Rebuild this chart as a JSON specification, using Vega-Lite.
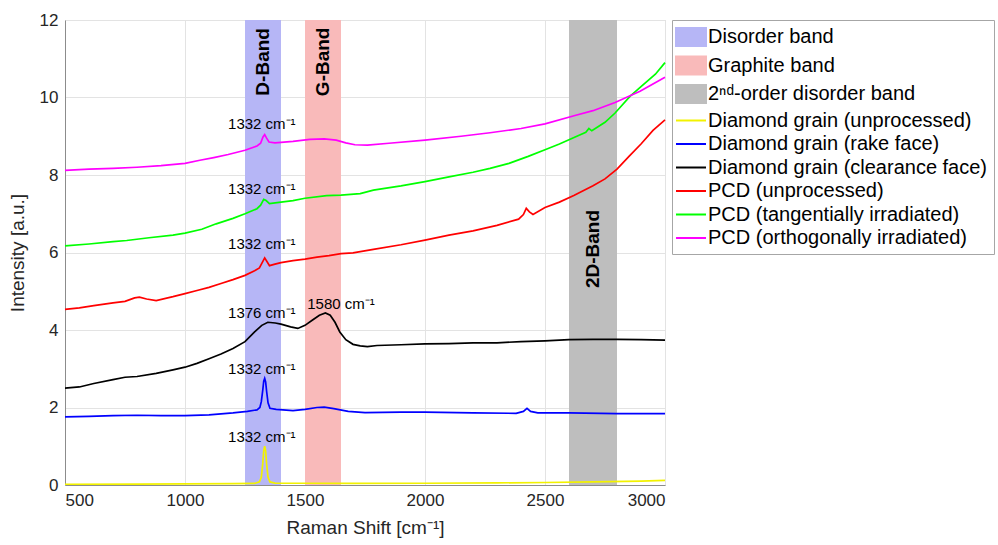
{
  "$schema": "https://vega.github.io/schema/vega-lite/v6.json",
  "autosize": {"type": "none"},
  "padding": {"left": 65, "top": 20, "right": 333, "bottom": 60},
  "width": 600,
  "height": 465,
  "background": "white",
  "config": {
    "font": "Liberation Sans",
    "view": {"stroke": "#d9d9d9"},
    "axis": {
      "labelFont": "Liberation Sans",
      "titleFont": "Liberation Sans",
      "labelFontSize": 17,
      "titleFontSize": 19,
      "titleFontWeight": "normal",
      "labelColor": "#262626",
      "titleColor": "#262626",
      "domainColor": "#8c8c8c",
      "gridColor": "#e3e3e3",
      "tickSize": 0,
      "labelPadding": 7,
      "format": "d"
    },
    "legend": {
      "labelFont": "Liberation Sans",
      "labelFontSize": 20,
      "labelColor": "#000000",
      "labelLimit": 400
    }
  },
  "datasets": {
    "bands": [
      {"series": "Disorder band", "start": 1250, "end": 1400},
      {"series": "Graphite band", "start": 1500, "end": 1650},
      {"series": "2ⁿᵈ-order disorder band", "start": 2600, "end": 2800}
    ],
    "spectra": [
      {"series": "Diamond grain (unprocessed)", "shift": 500, "intensity": 0.02},
      {"series": "Diamond grain (unprocessed)", "shift": 800, "intensity": 0.025},
      {"series": "Diamond grain (unprocessed)", "shift": 1000, "intensity": 0.03},
      {"series": "Diamond grain (unprocessed)", "shift": 1200, "intensity": 0.035},
      {"series": "Diamond grain (unprocessed)", "shift": 1290, "intensity": 0.04},
      {"series": "Diamond grain (unprocessed)", "shift": 1310, "intensity": 0.08},
      {"series": "Diamond grain (unprocessed)", "shift": 1318, "intensity": 0.2},
      {"series": "Diamond grain (unprocessed)", "shift": 1324, "intensity": 0.55},
      {"series": "Diamond grain (unprocessed)", "shift": 1328, "intensity": 0.88},
      {"series": "Diamond grain (unprocessed)", "shift": 1332, "intensity": 1.0},
      {"series": "Diamond grain (unprocessed)", "shift": 1336, "intensity": 0.88},
      {"series": "Diamond grain (unprocessed)", "shift": 1340, "intensity": 0.55},
      {"series": "Diamond grain (unprocessed)", "shift": 1346, "intensity": 0.2},
      {"series": "Diamond grain (unprocessed)", "shift": 1354, "intensity": 0.08},
      {"series": "Diamond grain (unprocessed)", "shift": 1375, "intensity": 0.05},
      {"series": "Diamond grain (unprocessed)", "shift": 1500, "intensity": 0.045},
      {"series": "Diamond grain (unprocessed)", "shift": 1700, "intensity": 0.04},
      {"series": "Diamond grain (unprocessed)", "shift": 2000, "intensity": 0.045},
      {"series": "Diamond grain (unprocessed)", "shift": 2300, "intensity": 0.055},
      {"series": "Diamond grain (unprocessed)", "shift": 2500, "intensity": 0.065},
      {"series": "Diamond grain (unprocessed)", "shift": 2700, "intensity": 0.08},
      {"series": "Diamond grain (unprocessed)", "shift": 2900, "intensity": 0.1},
      {"series": "Diamond grain (unprocessed)", "shift": 3000, "intensity": 0.12},

      {"series": "Diamond grain (rake face)", "shift": 500, "intensity": 1.76},
      {"series": "Diamond grain (rake face)", "shift": 600, "intensity": 1.77},
      {"series": "Diamond grain (rake face)", "shift": 700, "intensity": 1.79},
      {"series": "Diamond grain (rake face)", "shift": 800, "intensity": 1.8},
      {"series": "Diamond grain (rake face)", "shift": 900, "intensity": 1.79},
      {"series": "Diamond grain (rake face)", "shift": 1000, "intensity": 1.79},
      {"series": "Diamond grain (rake face)", "shift": 1100, "intensity": 1.81},
      {"series": "Diamond grain (rake face)", "shift": 1200, "intensity": 1.86},
      {"series": "Diamond grain (rake face)", "shift": 1260, "intensity": 1.9},
      {"series": "Diamond grain (rake face)", "shift": 1300, "intensity": 1.94},
      {"series": "Diamond grain (rake face)", "shift": 1312, "intensity": 2.0},
      {"series": "Diamond grain (rake face)", "shift": 1318, "intensity": 2.15},
      {"series": "Diamond grain (rake face)", "shift": 1324, "intensity": 2.45},
      {"series": "Diamond grain (rake face)", "shift": 1328, "intensity": 2.68},
      {"series": "Diamond grain (rake face)", "shift": 1332, "intensity": 2.75},
      {"series": "Diamond grain (rake face)", "shift": 1336, "intensity": 2.66},
      {"series": "Diamond grain (rake face)", "shift": 1340, "intensity": 2.42},
      {"series": "Diamond grain (rake face)", "shift": 1346, "intensity": 2.12},
      {"series": "Diamond grain (rake face)", "shift": 1354, "intensity": 1.98},
      {"series": "Diamond grain (rake face)", "shift": 1380, "intensity": 1.95},
      {"series": "Diamond grain (rake face)", "shift": 1450, "intensity": 1.92},
      {"series": "Diamond grain (rake face)", "shift": 1500, "intensity": 1.95},
      {"series": "Diamond grain (rake face)", "shift": 1550, "intensity": 2.0},
      {"series": "Diamond grain (rake face)", "shift": 1580, "intensity": 2.01},
      {"series": "Diamond grain (rake face)", "shift": 1620, "intensity": 1.97},
      {"series": "Diamond grain (rake face)", "shift": 1680, "intensity": 1.9},
      {"series": "Diamond grain (rake face)", "shift": 1750, "intensity": 1.87},
      {"series": "Diamond grain (rake face)", "shift": 1900, "intensity": 1.88},
      {"series": "Diamond grain (rake face)", "shift": 2000, "intensity": 1.88},
      {"series": "Diamond grain (rake face)", "shift": 2200, "intensity": 1.86},
      {"series": "Diamond grain (rake face)", "shift": 2380, "intensity": 1.85},
      {"series": "Diamond grain (rake face)", "shift": 2410, "intensity": 1.9},
      {"series": "Diamond grain (rake face)", "shift": 2425, "intensity": 1.98},
      {"series": "Diamond grain (rake face)", "shift": 2440, "intensity": 1.9},
      {"series": "Diamond grain (rake face)", "shift": 2470, "intensity": 1.86},
      {"series": "Diamond grain (rake face)", "shift": 2600, "intensity": 1.86},
      {"series": "Diamond grain (rake face)", "shift": 2800, "intensity": 1.84},
      {"series": "Diamond grain (rake face)", "shift": 3000, "intensity": 1.84},

      {"series": "Diamond grain (clearance face)", "shift": 500, "intensity": 2.5},
      {"series": "Diamond grain (clearance face)", "shift": 560, "intensity": 2.53},
      {"series": "Diamond grain (clearance face)", "shift": 620, "intensity": 2.62},
      {"series": "Diamond grain (clearance face)", "shift": 700, "intensity": 2.72},
      {"series": "Diamond grain (clearance face)", "shift": 750, "intensity": 2.78},
      {"series": "Diamond grain (clearance face)", "shift": 800, "intensity": 2.8},
      {"series": "Diamond grain (clearance face)", "shift": 880, "intensity": 2.88},
      {"series": "Diamond grain (clearance face)", "shift": 950, "intensity": 2.97},
      {"series": "Diamond grain (clearance face)", "shift": 1000, "intensity": 3.04},
      {"series": "Diamond grain (clearance face)", "shift": 1050, "intensity": 3.14},
      {"series": "Diamond grain (clearance face)", "shift": 1100, "intensity": 3.26},
      {"series": "Diamond grain (clearance face)", "shift": 1150, "intensity": 3.38},
      {"series": "Diamond grain (clearance face)", "shift": 1200, "intensity": 3.52},
      {"series": "Diamond grain (clearance face)", "shift": 1250, "intensity": 3.7},
      {"series": "Diamond grain (clearance face)", "shift": 1290, "intensity": 3.95},
      {"series": "Diamond grain (clearance face)", "shift": 1320, "intensity": 4.12},
      {"series": "Diamond grain (clearance face)", "shift": 1345, "intensity": 4.2},
      {"series": "Diamond grain (clearance face)", "shift": 1376, "intensity": 4.18},
      {"series": "Diamond grain (clearance face)", "shift": 1400, "intensity": 4.15},
      {"series": "Diamond grain (clearance face)", "shift": 1440, "intensity": 4.08},
      {"series": "Diamond grain (clearance face)", "shift": 1470, "intensity": 4.04},
      {"series": "Diamond grain (clearance face)", "shift": 1500, "intensity": 4.12},
      {"series": "Diamond grain (clearance face)", "shift": 1530, "intensity": 4.25},
      {"series": "Diamond grain (clearance face)", "shift": 1560, "intensity": 4.38},
      {"series": "Diamond grain (clearance face)", "shift": 1585, "intensity": 4.44},
      {"series": "Diamond grain (clearance face)", "shift": 1605, "intensity": 4.38},
      {"series": "Diamond grain (clearance face)", "shift": 1625, "intensity": 4.2},
      {"series": "Diamond grain (clearance face)", "shift": 1645, "intensity": 3.95},
      {"series": "Diamond grain (clearance face)", "shift": 1670, "intensity": 3.75},
      {"series": "Diamond grain (clearance face)", "shift": 1700, "intensity": 3.63},
      {"series": "Diamond grain (clearance face)", "shift": 1730, "intensity": 3.59},
      {"series": "Diamond grain (clearance face)", "shift": 1760, "intensity": 3.57},
      {"series": "Diamond grain (clearance face)", "shift": 1800, "intensity": 3.6},
      {"series": "Diamond grain (clearance face)", "shift": 1900, "intensity": 3.62},
      {"series": "Diamond grain (clearance face)", "shift": 2000, "intensity": 3.64},
      {"series": "Diamond grain (clearance face)", "shift": 2100, "intensity": 3.65},
      {"series": "Diamond grain (clearance face)", "shift": 2200, "intensity": 3.67},
      {"series": "Diamond grain (clearance face)", "shift": 2300, "intensity": 3.67},
      {"series": "Diamond grain (clearance face)", "shift": 2400, "intensity": 3.7},
      {"series": "Diamond grain (clearance face)", "shift": 2500, "intensity": 3.72},
      {"series": "Diamond grain (clearance face)", "shift": 2600, "intensity": 3.75},
      {"series": "Diamond grain (clearance face)", "shift": 2700, "intensity": 3.76},
      {"series": "Diamond grain (clearance face)", "shift": 2800, "intensity": 3.76},
      {"series": "Diamond grain (clearance face)", "shift": 2900, "intensity": 3.75},
      {"series": "Diamond grain (clearance face)", "shift": 3000, "intensity": 3.74},

      {"series": "PCD (unprocessed)", "shift": 500, "intensity": 4.53},
      {"series": "PCD (unprocessed)", "shift": 560, "intensity": 4.57},
      {"series": "PCD (unprocessed)", "shift": 620, "intensity": 4.63},
      {"series": "PCD (unprocessed)", "shift": 700, "intensity": 4.7},
      {"series": "PCD (unprocessed)", "shift": 750, "intensity": 4.74},
      {"series": "PCD (unprocessed)", "shift": 790, "intensity": 4.83},
      {"series": "PCD (unprocessed)", "shift": 810, "intensity": 4.85},
      {"series": "PCD (unprocessed)", "shift": 840, "intensity": 4.8},
      {"series": "PCD (unprocessed)", "shift": 880, "intensity": 4.76},
      {"series": "PCD (unprocessed)", "shift": 950, "intensity": 4.86},
      {"series": "PCD (unprocessed)", "shift": 1000, "intensity": 4.94},
      {"series": "PCD (unprocessed)", "shift": 1050, "intensity": 5.02},
      {"series": "PCD (unprocessed)", "shift": 1100, "intensity": 5.1},
      {"series": "PCD (unprocessed)", "shift": 1150, "intensity": 5.2},
      {"series": "PCD (unprocessed)", "shift": 1200, "intensity": 5.3},
      {"series": "PCD (unprocessed)", "shift": 1250, "intensity": 5.41},
      {"series": "PCD (unprocessed)", "shift": 1290, "intensity": 5.53},
      {"series": "PCD (unprocessed)", "shift": 1310, "intensity": 5.6},
      {"series": "PCD (unprocessed)", "shift": 1320, "intensity": 5.72},
      {"series": "PCD (unprocessed)", "shift": 1332, "intensity": 5.86},
      {"series": "PCD (unprocessed)", "shift": 1342, "intensity": 5.76},
      {"series": "PCD (unprocessed)", "shift": 1352, "intensity": 5.66},
      {"series": "PCD (unprocessed)", "shift": 1375, "intensity": 5.7},
      {"series": "PCD (unprocessed)", "shift": 1400, "intensity": 5.74},
      {"series": "PCD (unprocessed)", "shift": 1450, "intensity": 5.79},
      {"series": "PCD (unprocessed)", "shift": 1500, "intensity": 5.83},
      {"series": "PCD (unprocessed)", "shift": 1550, "intensity": 5.88},
      {"series": "PCD (unprocessed)", "shift": 1600, "intensity": 5.92},
      {"series": "PCD (unprocessed)", "shift": 1650, "intensity": 5.97},
      {"series": "PCD (unprocessed)", "shift": 1700, "intensity": 5.99},
      {"series": "PCD (unprocessed)", "shift": 1785, "intensity": 6.08},
      {"series": "PCD (unprocessed)", "shift": 1900, "intensity": 6.2},
      {"series": "PCD (unprocessed)", "shift": 2000, "intensity": 6.32},
      {"series": "PCD (unprocessed)", "shift": 2100, "intensity": 6.45},
      {"series": "PCD (unprocessed)", "shift": 2200, "intensity": 6.56},
      {"series": "PCD (unprocessed)", "shift": 2300, "intensity": 6.7},
      {"series": "PCD (unprocessed)", "shift": 2390, "intensity": 6.86},
      {"series": "PCD (unprocessed)", "shift": 2410, "intensity": 6.98},
      {"series": "PCD (unprocessed)", "shift": 2422, "intensity": 7.14},
      {"series": "PCD (unprocessed)", "shift": 2435, "intensity": 7.05},
      {"series": "PCD (unprocessed)", "shift": 2450, "intensity": 6.98},
      {"series": "PCD (unprocessed)", "shift": 2500, "intensity": 7.16},
      {"series": "PCD (unprocessed)", "shift": 2560, "intensity": 7.3},
      {"series": "PCD (unprocessed)", "shift": 2620, "intensity": 7.47},
      {"series": "PCD (unprocessed)", "shift": 2700, "intensity": 7.72},
      {"series": "PCD (unprocessed)", "shift": 2750, "intensity": 7.9},
      {"series": "PCD (unprocessed)", "shift": 2800, "intensity": 8.15},
      {"series": "PCD (unprocessed)", "shift": 2850, "intensity": 8.48},
      {"series": "PCD (unprocessed)", "shift": 2900, "intensity": 8.8},
      {"series": "PCD (unprocessed)", "shift": 2950, "intensity": 9.15},
      {"series": "PCD (unprocessed)", "shift": 3000, "intensity": 9.42},

      {"series": "PCD (tangentially irradiated)", "shift": 500, "intensity": 6.17},
      {"series": "PCD (tangentially irradiated)", "shift": 600, "intensity": 6.22},
      {"series": "PCD (tangentially irradiated)", "shift": 700, "intensity": 6.28},
      {"series": "PCD (tangentially irradiated)", "shift": 757, "intensity": 6.31},
      {"series": "PCD (tangentially irradiated)", "shift": 850, "intensity": 6.38},
      {"series": "PCD (tangentially irradiated)", "shift": 950, "intensity": 6.45},
      {"series": "PCD (tangentially irradiated)", "shift": 1000, "intensity": 6.5},
      {"series": "PCD (tangentially irradiated)", "shift": 1070, "intensity": 6.6},
      {"series": "PCD (tangentially irradiated)", "shift": 1130, "intensity": 6.74},
      {"series": "PCD (tangentially irradiated)", "shift": 1200, "intensity": 6.88},
      {"series": "PCD (tangentially irradiated)", "shift": 1250, "intensity": 7.0},
      {"series": "PCD (tangentially irradiated)", "shift": 1300, "intensity": 7.13},
      {"series": "PCD (tangentially irradiated)", "shift": 1315, "intensity": 7.22},
      {"series": "PCD (tangentially irradiated)", "shift": 1328, "intensity": 7.37},
      {"series": "PCD (tangentially irradiated)", "shift": 1338, "intensity": 7.34},
      {"series": "PCD (tangentially irradiated)", "shift": 1352, "intensity": 7.26},
      {"series": "PCD (tangentially irradiated)", "shift": 1400, "intensity": 7.3},
      {"series": "PCD (tangentially irradiated)", "shift": 1450, "intensity": 7.34},
      {"series": "PCD (tangentially irradiated)", "shift": 1500, "intensity": 7.4},
      {"series": "PCD (tangentially irradiated)", "shift": 1590, "intensity": 7.47},
      {"series": "PCD (tangentially irradiated)", "shift": 1650, "intensity": 7.48},
      {"series": "PCD (tangentially irradiated)", "shift": 1730, "intensity": 7.52},
      {"series": "PCD (tangentially irradiated)", "shift": 1785, "intensity": 7.61},
      {"series": "PCD (tangentially irradiated)", "shift": 1900, "intensity": 7.72},
      {"series": "PCD (tangentially irradiated)", "shift": 2000, "intensity": 7.83},
      {"series": "PCD (tangentially irradiated)", "shift": 2100, "intensity": 7.95},
      {"series": "PCD (tangentially irradiated)", "shift": 2200, "intensity": 8.07},
      {"series": "PCD (tangentially irradiated)", "shift": 2271, "intensity": 8.17},
      {"series": "PCD (tangentially irradiated)", "shift": 2350, "intensity": 8.3},
      {"series": "PCD (tangentially irradiated)", "shift": 2430, "intensity": 8.48},
      {"series": "PCD (tangentially irradiated)", "shift": 2500, "intensity": 8.65},
      {"series": "PCD (tangentially irradiated)", "shift": 2560, "intensity": 8.8},
      {"series": "PCD (tangentially irradiated)", "shift": 2621, "intensity": 8.97},
      {"series": "PCD (tangentially irradiated)", "shift": 2670, "intensity": 9.1},
      {"series": "PCD (tangentially irradiated)", "shift": 2683, "intensity": 9.2},
      {"series": "PCD (tangentially irradiated)", "shift": 2695, "intensity": 9.14},
      {"series": "PCD (tangentially irradiated)", "shift": 2750, "intensity": 9.36},
      {"series": "PCD (tangentially irradiated)", "shift": 2792, "intensity": 9.6},
      {"series": "PCD (tangentially irradiated)", "shift": 2854, "intensity": 10.03},
      {"series": "PCD (tangentially irradiated)", "shift": 2900, "intensity": 10.28},
      {"series": "PCD (tangentially irradiated)", "shift": 2924, "intensity": 10.41},
      {"series": "PCD (tangentially irradiated)", "shift": 2960, "intensity": 10.6},
      {"series": "PCD (tangentially irradiated)", "shift": 3000, "intensity": 10.9},

      {"series": "PCD (orthogonally irradiated)", "shift": 500, "intensity": 8.12},
      {"series": "PCD (orthogonally irradiated)", "shift": 600, "intensity": 8.15},
      {"series": "PCD (orthogonally irradiated)", "shift": 700, "intensity": 8.17},
      {"series": "PCD (orthogonally irradiated)", "shift": 800, "intensity": 8.2},
      {"series": "PCD (orthogonally irradiated)", "shift": 900, "intensity": 8.24},
      {"series": "PCD (orthogonally irradiated)", "shift": 1000, "intensity": 8.3},
      {"series": "PCD (orthogonally irradiated)", "shift": 1062, "intensity": 8.38},
      {"series": "PCD (orthogonally irradiated)", "shift": 1120, "intensity": 8.45},
      {"series": "PCD (orthogonally irradiated)", "shift": 1180, "intensity": 8.53},
      {"series": "PCD (orthogonally irradiated)", "shift": 1250, "intensity": 8.64},
      {"series": "PCD (orthogonally irradiated)", "shift": 1300, "intensity": 8.75},
      {"series": "PCD (orthogonally irradiated)", "shift": 1315, "intensity": 8.82},
      {"series": "PCD (orthogonally irradiated)", "shift": 1325, "intensity": 8.98},
      {"series": "PCD (orthogonally irradiated)", "shift": 1332, "intensity": 9.04},
      {"series": "PCD (orthogonally irradiated)", "shift": 1340, "intensity": 8.95},
      {"series": "PCD (orthogonally irradiated)", "shift": 1350, "intensity": 8.85},
      {"series": "PCD (orthogonally irradiated)", "shift": 1375, "intensity": 8.83},
      {"series": "PCD (orthogonally irradiated)", "shift": 1450, "intensity": 8.87},
      {"series": "PCD (orthogonally irradiated)", "shift": 1520, "intensity": 8.92},
      {"series": "PCD (orthogonally irradiated)", "shift": 1580, "intensity": 8.93},
      {"series": "PCD (orthogonally irradiated)", "shift": 1630, "intensity": 8.9},
      {"series": "PCD (orthogonally irradiated)", "shift": 1670, "intensity": 8.83},
      {"series": "PCD (orthogonally irradiated)", "shift": 1708, "intensity": 8.78},
      {"series": "PCD (orthogonally irradiated)", "shift": 1760, "intensity": 8.77},
      {"series": "PCD (orthogonally irradiated)", "shift": 1850, "intensity": 8.82},
      {"series": "PCD (orthogonally irradiated)", "shift": 2000, "intensity": 8.9},
      {"series": "PCD (orthogonally irradiated)", "shift": 2150, "intensity": 9.0},
      {"series": "PCD (orthogonally irradiated)", "shift": 2271, "intensity": 9.09},
      {"series": "PCD (orthogonally irradiated)", "shift": 2400, "intensity": 9.2},
      {"series": "PCD (orthogonally irradiated)", "shift": 2500, "intensity": 9.32},
      {"series": "PCD (orthogonally irradiated)", "shift": 2621, "intensity": 9.53},
      {"series": "PCD (orthogonally irradiated)", "shift": 2700, "intensity": 9.66},
      {"series": "PCD (orthogonally irradiated)", "shift": 2792, "intensity": 9.87},
      {"series": "PCD (orthogonally irradiated)", "shift": 2896, "intensity": 10.16},
      {"series": "PCD (orthogonally irradiated)", "shift": 3000, "intensity": 10.52}
    ],
    "peaks": [
      {"x": 1320, "y": 9.32, "t": "1332 cm⁻¹"},
      {"x": 1320, "y": 7.65, "t": "1332 cm⁻¹"},
      {"x": 1320, "y": 6.23, "t": "1332 cm⁻¹"},
      {"x": 1320, "y": 4.45, "t": "1376 cm⁻¹"},
      {"x": 1650, "y": 4.66, "t": "1580 cm⁻¹"},
      {"x": 1320, "y": 2.99, "t": "1332 cm⁻¹"},
      {"x": 1320, "y": 1.24, "t": "1332 cm⁻¹"}
    ],
    "bandlabels": [
      {"x": 1325, "y": 10.92, "t": "D-Band"},
      {"x": 1575, "y": 10.92, "t": "G-Band"},
      {"x": 2700, "y": 6.09, "t": "2D-Band"}
    ]
  },
  "layer": [
    {
      "data": {"name": "bands"},
      "mark": {"type": "rect", "opacity": 1},
      "encoding": {
        "x": {"field": "start", "type": "quantitative"},
        "x2": {"field": "end"},
        "color": {"field": "series", "type": "nominal"}
      }
    },
    {
      "data": {"name": "spectra"},
      "mark": {"type": "line", "strokeWidth": 1.7},
      "encoding": {
        "x": {
          "field": "shift",
          "type": "quantitative",
          "scale": {"domain": [500, 3000], "nice": false, "zero": false},
          "axis": {"values": [500, 1000, 1500, 2000, 2500, 3000], "title": "Raman Shift [cm⁻¹]", "titlePadding": 10, "grid": true}
        },
        "y": {
          "field": "intensity",
          "type": "quantitative",
          "scale": {"domain": [0, 12], "nice": false},
          "axis": {"values": [0, 2, 4, 6, 8, 10, 12], "title": "Intensity [a.u.]", "titlePadding": 12, "grid": true}
        },
        "color": {
          "field": "series",
          "type": "nominal",
          "scale": {
            "domain": ["Disorder band", "Graphite band", "2ⁿᵈ-order disorder band", "Diamond grain (unprocessed)", "Diamond grain (rake face)", "Diamond grain (clearance face)", "PCD (unprocessed)", "PCD (tangentially irradiated)", "PCD (orthogonally irradiated)"],
            "range": ["#b6b6f6", "#f9baba", "#bebebe", "#f2f200", "#0000ff", "#000000", "#ff0000", "#00ff00", "#ff00ff"]
          },
          "legend": {
            "title": null,
            "orient": "right",
            "offset": 3,
            "padding": 6,
            "strokeColor": "#a6a6a6",
            "fillColor": "white",
            "symbolSize": 400,
            "symbolStrokeWidth": 2,
            "labelOffset": 8,
            "rowPadding": 2.5,
            "encode": {
              "symbols": {
                "update": {
                  "shape": {"signal": "indexof(['Disorder band','Graphite band','2ⁿᵈ-order disorder band'], datum.value) >= 0 ? 'M-1.5,-0.9H1.5V0.9H-1.5Z' : 'M-1.5,0H1.5'"},
                  "fill": {"signal": "indexof(['Disorder band','Graphite band','2ⁿᵈ-order disorder band'], datum.value) >= 0 ? scale('color', datum.value) : 'transparent'"},
                  "stroke": {"signal": "indexof(['Disorder band','Graphite band','2ⁿᵈ-order disorder band'], datum.value) >= 0 ? 'transparent' : scale('color', datum.value)"},
                  "strokeWidth": {"value": 2},
                  "opacity": {"value": 1},
                  "x": {"value": 13}
                }
              }
            }
          }
        }
      }
    },
    {
      "data": {"name": "peaks"},
      "mark": {"type": "text", "fontSize": 15, "align": "center", "baseline": "middle", "color": "#000000"},
      "encoding": {
        "x": {"field": "x", "type": "quantitative"},
        "y": {"field": "y", "type": "quantitative"},
        "text": {"field": "t"}
      }
    },
    {
      "data": {"name": "bandlabels"},
      "mark": {"type": "text", "fontSize": 19, "fontWeight": "bold", "angle": -90, "align": "center", "baseline": "middle", "color": "#000000"},
      "encoding": {
        "x": {"field": "x", "type": "quantitative"},
        "y": {"field": "y", "type": "quantitative"},
        "text": {"field": "t"}
      }
    }
  ]
}
